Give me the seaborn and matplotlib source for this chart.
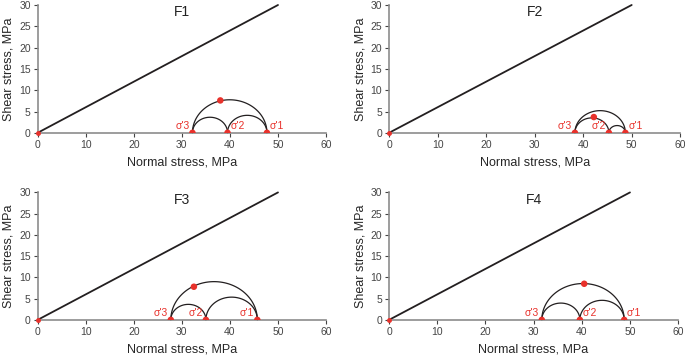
import numpy as np
import pandas as pd
import seaborn as sns
from matplotlib import pyplot as plt

# principal stresses (MPa): sigma'3, sigma'2, sigma'1
panels = ['F1', 'F2', 'F3', 'F4']
s3 = [32.2, 38.3, 27.7, 31.7]
s2 = [39.5, 45.3, 35.0, 39.6]
s1 = [47.7, 48.7, 45.7, 48.8]
# stress point plotted on the circles
pt_x = [38.0, 42.2, 32.5, 40.5]
pt_y = [7.6, 3.7, 7.8, 8.5]
# failure envelope
env_x = [0, 50]
env_y = [0, 30]
# which side of the marker each sigma label goes: -1 left, +1 right
lab2_side = [1, -1, -1, 1]
lab1_side = [1, 1, -1, 1]

sns.set_style('white')
plt.rcParams['font.family'] = ['Liberation Sans', 'DejaVu Sans']

red = '#e8312b'
dark = '#231f20'
grey = '#8c8c8c'

fig = plt.figure(figsize=(6.85, 3.57), dpi=100)
boxes = [[0.055, 0.628, 0.421, 0.358],
         [0.568, 0.628, 0.425, 0.358],
         [0.055, 0.104, 0.421, 0.357],
         [0.568, 0.104, 0.422, 0.357]]

def arc(ax, a, b):
    c = (a + b) / 2
    r = (b - a) / 2
    t = np.linspace(0, np.pi, 120)
    d = pd.DataFrame({'x': c + r*np.cos(t), 'y': r*np.sin(t)})
    sns.lineplot(data=d, x='x', y='y', sort=False, color=dark, lw=0.9, ax=ax)

for i, name in enumerate(panels):
    ax = fig.add_axes(boxes[i])
    sns.lineplot(x=env_x, y=env_y, color=dark, lw=1.3, ax=ax)
    arc(ax, s3[i], s1[i])
    arc(ax, s3[i], s2[i])
    arc(ax, s2[i], s1[i])
    sig = pd.DataFrame({'x': [s3[i], s2[i], s1[i], pt_x[i]],
                        'y': [0, 0, 0, pt_y[i]]})
    sns.scatterplot(data=sig, x='x', y='y', color=red, s=22, edgecolor='none',
                    zorder=5, ax=ax)
    ax.plot([0], [0], 'o', color=red, ms=2.5, zorder=5)
    ax.text(s3[i] - 0.6, 0.5, "σ'3", color=red, fontsize=7.5, ha='right', va='bottom')
    ax.text(s2[i] + 0.6*lab2_side[i], 0.5, "σ'2", color=red, fontsize=7.5,
            ha='left' if lab2_side[i] > 0 else 'right', va='bottom')
    ax.text(s1[i] + 0.6*lab1_side[i], 0.5, "σ'1", color=red, fontsize=7.5,
            ha='left' if lab1_side[i] > 0 else 'right', va='bottom')
    ax.text(30, 28.3, name, fontsize=10, ha='center', va='center', color='#222222')

    ax.set_xlim(0, 60)
    ax.set_ylim(0, 30)
    ax.set_xticks(range(0, 61, 10))
    ax.set_yticks(range(0, 31, 5))
    ax.set_xlabel('Normal stress, MPa', fontsize=9, labelpad=5)
    ax.set_ylabel('Shear stress, MPa', fontsize=9, labelpad=3)
    ax.tick_params(labelsize=7.5, colors='#444444', length=3, width=0.8, pad=2,
                   direction='out', bottom=True, left=True)
    for sp in ['top', 'right']:
        ax.spines[sp].set_visible(False)
    for sp in ['left', 'bottom']:
        ax.spines[sp].set_color(grey)
        ax.spines[sp].set_linewidth(1.2)
    for ln in ax.lines:
        ln.set_clip_on(False)

fig.savefig('out.png', dpi=100)
